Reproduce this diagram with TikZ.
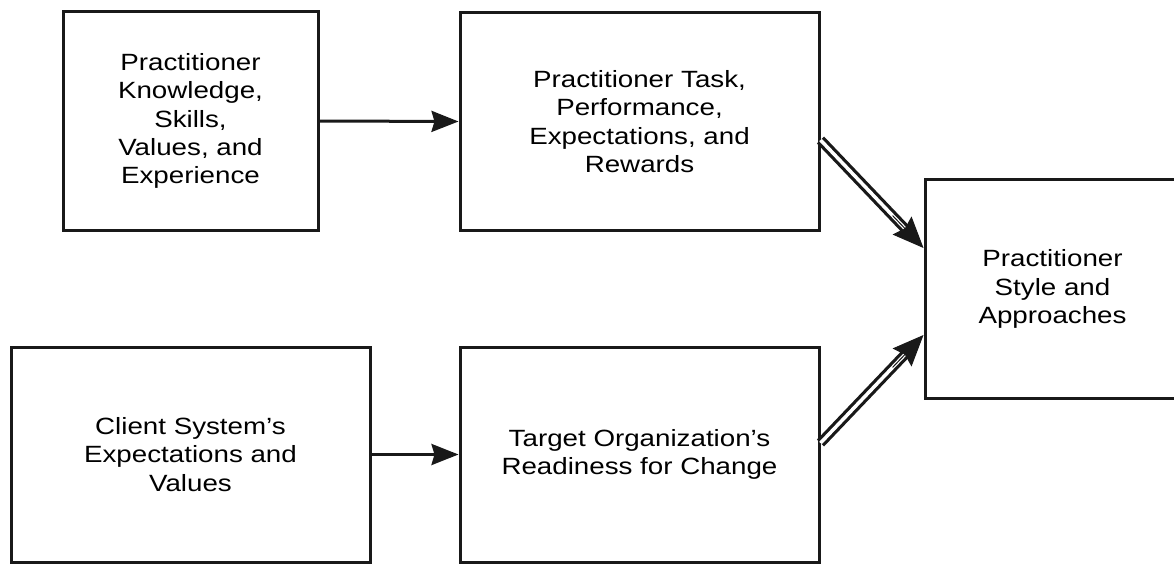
\documentclass[tikz,border=0pt]{standalone}
\usepackage{fontspec}
\setmainfont[FakeStretch=1.18]{Liberation Sans}
\usetikzlibrary{arrows.meta,calc}
\tikzset{
  box/.style={draw=black!90, line width=3pt, rectangle, align=center, inner sep=0pt,
    font=\fontsize{23.5pt}{28.3pt}\selectfont},
  single/.style={line width=3pt, draw=black!90, -{Stealth[length=27pt,width=21pt,inset=3pt]}},
  dblshaft/.style={draw=black!90, line width=3.2pt, double=white, double distance=3.5pt, shorten >=20pt},
  dblhead/.style={draw=black!90, fill=black!90, line width=1pt, -{Stealth[length=31pt,width=26pt,inset=4pt]}},
}
\begin{document}
\begin{tikzpicture}[x=1pt,y=-1pt]
\useasboundingbox (0,0) rectangle (1174,564);
\fill[white] (0,0) rectangle (1174,564);
\clip (0,0) rectangle (1174,564);
\node[box, minimum width=255pt, minimum height=218pt] (b1) at (190.5,121)
  {Practitioner\\Knowledge,\\Skills,\\Values, and\\Experience};
\node[box, minimum width=359pt, minimum height=217pt] (b2) at (639.5,121.5)
  {Practitioner Task,\\Performance,\\Expectations, and\\Rewards};
\node[box, minimum width=359pt, minimum height=215pt] (b4) at (190.5,454.5)
  {Client System’s\\Expectations and\\Values};
\node[box, minimum width=359pt, minimum height=215pt] (b5) at (639.5,454.5)
  {Target Organization’s\\Readiness for Change};
\node[box, minimum width=255pt, minimum height=218pt] (b3) at (1052.5,289)
  {Practitioner\\Style and\\Approaches};
\draw[single] (b1.east) -- (b2.west);
\draw[single] (b4.east) -- (b5.west);
\coordinate (s1) at ([yshift=-18.5pt]b2.east);
\coordinate (e1) at ([yshift=41pt]b3.west);
\coordinate (s2) at ([yshift=11.5pt]b5.east);
\coordinate (e2) at ([yshift=-46pt]b3.west);
\draw[dblshaft] (s1) -- (e1);
\draw[dblshaft] (s2) -- (e2);
\draw[dblhead] ($(s1)!0.7!(e1)$) -- (e1);
\draw[dblhead] ($(s2)!0.7!(e2)$) -- (e2);
\end{tikzpicture}
\end{document}
